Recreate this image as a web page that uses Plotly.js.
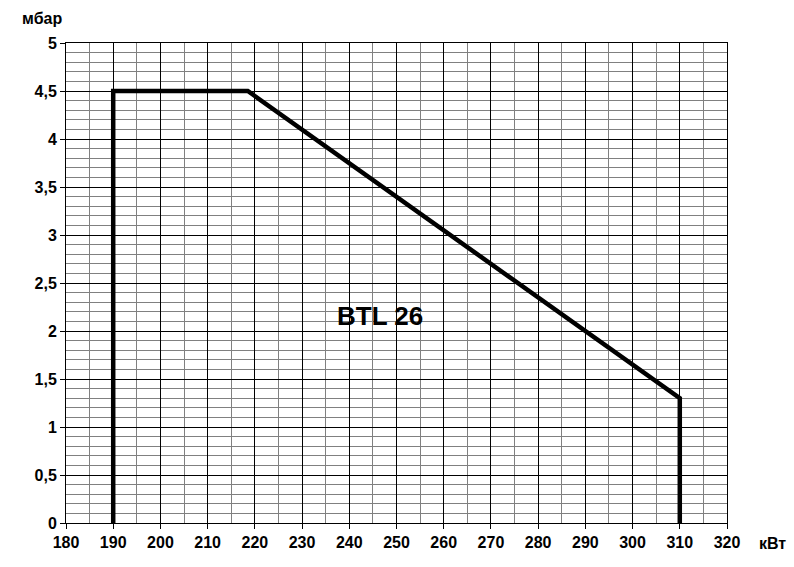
<!DOCTYPE html>
<html><head><meta charset="utf-8">
<script src="https://cdn.plot.ly/plotly-3.0.1.min.js"></script>
<style>html,body{margin:0;padding:0;background:#fff}</style>
</head><body><div id="chart" style="width:794px;height:567px"></div>
<script>
const powerKW = [190, 190, 218.5, 310, 310];
const pressureMbar = [0, 4.5, 4.5, 1.3, 0];
const modelLabel = "BTL 26";
const xUnit = "кВт";
const yUnit = "мбар";
const xTicks = [180,190,200,210,220,230,240,250,260,270,280,290,300,310,320];
const yTicks = [0,0.5,1,1.5,2,2.5,3,3.5,4,4.5,5];

const FAM = "Liberation Sans, Arial, sans-serif";
const tickFont = {family: FAM, size: 16, color: "#000", weight: "bold"};
const M = {l: 66, r: 67, t: 43, b: 44};
const W = 794, H = 567;
const pw = W - M.l - M.r, ph = H - M.t - M.b;
const px2x = p => (p - M.l) / pw;
const px2y = p => 1 - (p - M.t) / ph;

Plotly.newPlot("chart", [{
  x: powerKW, y: pressureMbar, type: "scatter", mode: "lines",
  line: {color: "#000", width: 4.5}, hoverinfo: "skip"
}], {
  width: W, height: H,
  margin: M,
  separators: ", ",
  showlegend: false,
  paper_bgcolor: "#fff", plot_bgcolor: "#fff",
  xaxis: {
    range: [180, 320], tickvals: xTicks, ticktext: xTicks.map(String),
    showgrid: true, gridcolor: "#000", gridwidth: 1,
    minor: {dtick: 5, tick0: 180, showgrid: true, gridcolor: "#808080", gridwidth: 1, ticks: ""},
    showline: true, linecolor: "#000", linewidth: 1, mirror: true,
    ticks: "outside", ticklen: 5, tickcolor: "#000",
    tickfont: tickFont, zeroline: false, fixedrange: true
  },
  yaxis: {
    range: [0, 5], tickvals: yTicks,
    showgrid: true, gridcolor: "#000", gridwidth: 1,
    minor: {dtick: 0.1, tick0: 0, showgrid: true, gridcolor: "#808080", gridwidth: 1, ticks: ""},
    showline: true, linecolor: "#000", linewidth: 1, mirror: true,
    ticks: "outside", ticklen: 5, tickcolor: "#000",
    tickfont: tickFont, zeroline: false, fixedrange: true
  },
  annotations: [
    {x: 246.4, y: 2.156, xref: "x", yref: "y", text: modelLabel, showarrow: false,
     xanchor: "center", yanchor: "middle",
     font: {family: FAM, size: 26, color: "#000", weight: "bold"}},
    {x: px2x(42), y: px2y(18), xref: "paper", yref: "paper", text: yUnit, showarrow: false,
     xanchor: "center", yanchor: "middle",
     font: {family: FAM, size: 16, color: "#000", weight: "bold"}},
    {x: px2x(772), y: px2y(543), xref: "paper", yref: "paper", text: xUnit, showarrow: false,
     xanchor: "center", yanchor: "middle",
     font: {family: FAM, size: 16, color: "#000", weight: "bold"}}
  ]
}, {staticPlot: true, displayModeBar: false});
</script></body></html>
